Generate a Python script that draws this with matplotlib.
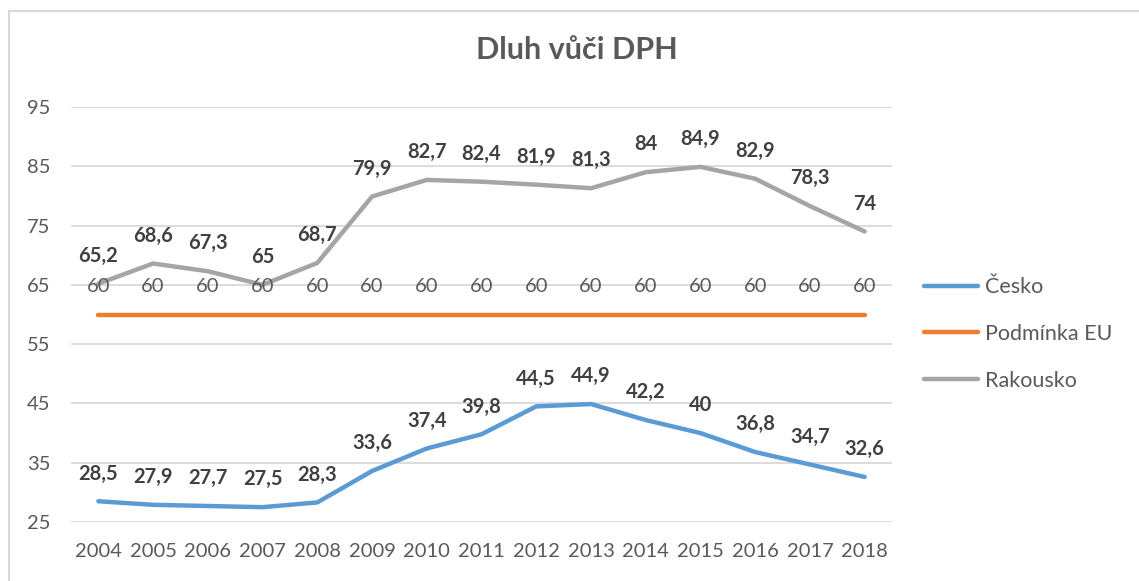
import matplotlib.pyplot as plt
from matplotlib.lines import Line2D

plt.rcParams['font.family'] = ['Lato', 'DejaVu Sans']

years = ['2004', '2005', '2006', '2007', '2008', '2009', '2010', '2011',
         '2012', '2013', '2014', '2015', '2016', '2017', '2018']
cesko = [28.5, 27.9, 27.7, 27.5, 28.3, 33.6, 37.4, 39.8, 44.5, 44.9,
         42.2, 40, 36.8, 34.7, 32.6]
podminka_eu = [60] * 15
rakousko = [65.2, 68.6, 67.3, 65, 68.7, 79.9, 82.7, 82.4, 81.9, 81.3,
            84, 84.9, 82.9, 78.3, 74]
yticks = [25, 35, 45, 55, 65, 75, 85, 95]

txt = '#595959'

fig = plt.figure(figsize=(11.39, 5.81), dpi=100)
ax = fig.add_axes([71/1139, 1-522/581, (892-71)/1139, (522-107)/581])

x = list(range(len(years)))
series = [
    ('Česko', cesko, '#5B9BD5', 'bold'),
    ('Podmínka EU', podminka_eu, '#ED7D31', 'normal'),
    ('Rakousko', rakousko, '#A5A5A5', 'bold'),
]
for name, vals, col, w in series:
    ax.plot(x, vals, color=col, lw=3.2, solid_capstyle='round', label=name, zorder=3)
    for xi, v in zip(x, vals):
        lab = ('%g' % v).replace('.', ',')
        ax.annotate(lab, (xi, v), xytext=(0, 20), textcoords='offset points',
                    ha='center', va='center', fontsize=14.5, fontweight=w,
                    color=txt if w == 'normal' else '#404040', zorder=4)

ax.set_xlim(-0.5, len(years) - 0.5)
ax.set_ylim(25, 95)
ax.set_yticks(yticks)
ax.set_xticks(x)
ax.set_xticklabels(years)
ax.grid(axis='y', color='#D9D9D9', lw=1.3)
ax.set_axisbelow(True)
for s in ax.spines.values():
    s.set_visible(False)
ax.tick_params(length=0, labelsize=14.5, colors=txt)
ax.tick_params(axis='y', pad=15)
ax.tick_params(axis='x', pad=15)

fig.text(577/1139, 1-50/581, 'Dluh vůči DPH', ha='center', va='center',
         fontsize=22, fontweight='bold', color=txt)

fig.legend(loc='center left', bbox_to_anchor=(905/1139, 1-334/581),
           frameon=False, fontsize=15.5, labelcolor=txt, handlelength=2.5,
           handletextpad=0.3, labelspacing=1.25)

# chart frame
fig.add_artist(Line2D([9/1139, 1], [1-11/581, 1-11/581], color='#D9D9D9', lw=1.5))
fig.add_artist(Line2D([9/1139, 9/1139], [0, 1-11/581], color='#D9D9D9', lw=1.5))

fig.savefig('out.png', dpi=100)
